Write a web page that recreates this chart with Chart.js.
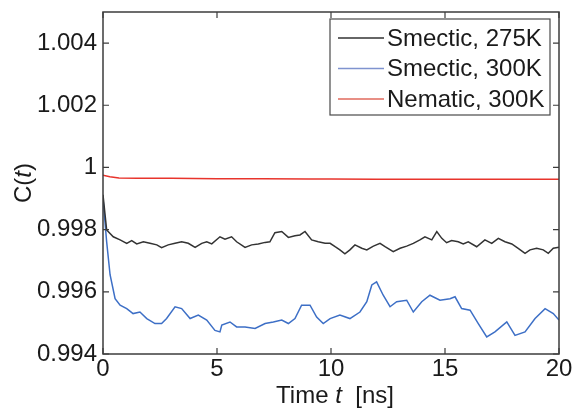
<!DOCTYPE html>
<html>
<head>
<meta charset="utf-8">
<script src="https://cdn.jsdelivr.net/npm/chart.js@4.4.1/dist/chart.umd.min.js"></script>
<style>
  html, body { margin: 0; padding: 0; background: #fff; }
  #wrap { width: 574px; height: 410px; }
</style>
</head>
<body>
<div id="wrap"><canvas id="myChart"></canvas></div>
<script>
// C(t) traces, time in ns
const blackT = [0, 0.16, 0.45, 0.75, 1.04, 1.26, 1.48, 1.77, 2.06, 2.36, 2.57, 2.86, 3.16, 3.45, 3.74, 4.04, 4.33, 4.55, 4.77, 5.13, 5.35, 5.64, 5.86, 6.23, 6.52, 6.81, 7.11, 7.32, 7.54, 7.84, 8.13, 8.42, 8.64, 8.86, 9.15, 9.44, 9.74, 9.96, 10.18, 10.39, 10.61, 10.83, 11.05, 11.35, 11.57, 11.86, 12.15, 12.37, 12.73, 13.03, 13.32, 13.61, 13.9, 14.12, 14.42, 14.64, 14.86, 15.07, 15.29, 15.58, 15.8, 16.02, 16.39, 16.75, 17.05, 17.34, 17.63, 17.93, 18.21, 18.51, 18.73, 19.02, 19.31, 19.53, 19.75, 20];
const blackC = [0.99912, 0.99799, 0.99777, 0.99767, 0.99756, 0.99765, 0.99754, 0.99761, 0.99756, 0.99751, 0.99742, 0.99751, 0.99756, 0.99761, 0.99756, 0.99743, 0.99756, 0.99761, 0.99754, 0.99777, 0.99769, 0.99777, 0.99761, 0.99743, 0.99751, 0.99754, 0.99759, 0.99761, 0.9979, 0.99794, 0.99775, 0.9978, 0.99783, 0.99794, 0.99767, 0.99761, 0.99756, 0.99756, 0.99745, 0.99735, 0.99722, 0.99735, 0.99751, 0.9974, 0.99735, 0.99747, 0.99756, 0.99745, 0.99729, 0.9974, 0.99747, 0.99756, 0.99767, 0.99777, 0.99767, 0.99794, 0.99772, 0.99758, 0.99765, 0.99761, 0.99754, 0.99761, 0.99745, 0.99767, 0.99756, 0.99772, 0.99761, 0.99754, 0.9974, 0.99724, 0.99735, 0.9974, 0.99735, 0.99724, 0.9974, 0.99743];

const blueT = [0, 0.16, 0.31, 0.53, 0.75, 1.04, 1.32, 1.62, 1.92, 2.28, 2.57, 2.79, 3.16, 3.45, 3.82, 4.18, 4.55, 4.91, 5.13, 5.21, 5.57, 5.86, 6.23, 6.67, 7.11, 7.47, 7.84, 8.13, 8.42, 8.71, 9.08, 9.37, 9.66, 9.96, 10.39, 10.83, 11.27, 11.57, 11.79, 12.0, 12.29, 12.59, 12.88, 13.32, 13.61, 13.98, 14.34, 14.78, 15.22, 15.44, 15.73, 16.1, 16.46, 16.83, 17.19, 17.71, 18.07, 18.51, 18.95, 19.39, 19.75, 20];
const blueC = [0.99901, 0.99761, 0.99655, 0.99578, 0.99557, 0.99546, 0.9953, 0.99535, 0.99514, 0.99498, 0.99498, 0.99514, 0.99552, 0.99546, 0.99514, 0.99525, 0.99509, 0.99476, 0.99471, 0.99493, 0.99503, 0.99487, 0.99487, 0.99482, 0.99498, 0.99503, 0.99509, 0.99498, 0.99514, 0.99557, 0.99557, 0.99519, 0.99498, 0.99514, 0.99525, 0.99514, 0.99535, 0.99568, 0.99622, 0.99632, 0.99589, 0.99552, 0.99568, 0.99573, 0.99535, 0.99568, 0.99589, 0.99573, 0.99578, 0.99584, 0.99546, 0.99541, 0.99498, 0.99455, 0.99471, 0.99503, 0.9946, 0.99471, 0.99514, 0.99546, 0.9953, 0.99509];

const redT = [0, 0.3, 0.7, 1.5, 3, 5, 7, 9, 10, 12, 14, 16, 18, 20];
const redC = [0.99975, 0.9997, 0.99966, 0.99965, 0.99965, 0.99964, 0.99964, 0.99963, 0.99963, 0.99962, 0.99962, 0.99962, 0.99962, 0.99962];

const seriesNames = ['Smectic, 275K', 'Smectic, 300K', 'Nematic, 300K'];
const seriesColors = ['#333333', '#3d6fc6', '#e8342c'];
const legendColors = ['#333333', '#7f93cf', '#e06a5c'];

const xTicks = [0, 5, 10, 15, 20];
const yTickValues = [0.994, 0.996, 0.998, 1.0, 1.002, 1.004];
const yTickLabels = ['0.994', '0.996', '0.998', '1', '1.002', '1.004'];

const FONT = '"Liberation Sans", Arial, sans-serif';
const TXT = '#1a1a1a';
const SIZE = 24;

function pts(ts, vs) {
  return ts.map((t, i) => ({ x: t, y: vs[i] }));
}

// draws mixed upright/italic pieces one after another
function drawPieces(ctx, parts, x, y) {
  parts.forEach(p => {
    ctx.font = p[1] + SIZE + 'px ' + FONT;
    ctx.fillText(p[0], x, y);
    x += ctx.measureText(p[0]).width;
  });
}
function piecesWidth(ctx, parts) {
  let w = 0;
  parts.forEach(p => { ctx.font = p[1] + SIZE + 'px ' + FONT; w += ctx.measureText(p[0]).width; });
  return w;
}

// frame, inward ticks, axis titles and legend box
const axesDeco = {
  id: 'axesDeco',
  afterDatasetsDraw(chart) {
    const ctx = chart.ctx;
    const a = chart.chartArea;
    const xs = chart.scales.x, ys = chart.scales.y;
    const tl = 6;
    ctx.save();
    ctx.strokeStyle = '#3c3c3c';
    ctx.lineWidth = 1.5;
    ctx.strokeRect(a.left, a.top, a.right - a.left, a.bottom - a.top);
    ctx.lineWidth = 1.2;
    ctx.beginPath();
    xTicks.forEach(v => {
      const px = xs.getPixelForValue(v);
      ctx.moveTo(px, a.bottom); ctx.lineTo(px, a.bottom - tl);
      ctx.moveTo(px, a.top); ctx.lineTo(px, a.top + tl);
    });
    yTickValues.forEach(v => {
      const py = ys.getPixelForValue(v);
      ctx.moveTo(a.left, py); ctx.lineTo(a.left + tl, py);
      ctx.moveTo(a.right, py); ctx.lineTo(a.right - tl, py);
    });
    ctx.stroke();

    ctx.fillStyle = TXT;
    ctx.textBaseline = 'alphabetic';

    // x title
    const xparts = [['Time ', ''], ['t', 'italic '], ['  [ns]', '']];
    drawPieces(ctx, xparts, (a.left + a.right) / 2 - piecesWidth(ctx, xparts) / 2 + 4, 403);

    // y title
    ctx.save();
    ctx.translate(31, (a.top + a.bottom) / 2);
    ctx.rotate(-Math.PI / 2);
    const yparts = [['C(', ''], ['t', 'italic '], [')', '']];
    drawPieces(ctx, yparts, -piecesWidth(ctx, yparts) / 2, 0);
    ctx.restore();

    // legend
    const lx = 330, ly = 19, lw = 220, lh = 96;
    ctx.fillStyle = '#ffffff';
    ctx.fillRect(lx, ly, lw, lh);
    ctx.strokeStyle = '#4a4a4a';
    ctx.lineWidth = 1.2;
    ctx.strokeRect(lx, ly, lw, lh);
    ctx.font = SIZE + 'px ' + FONT;
    ctx.textBaseline = 'middle';
    seriesNames.forEach((name, i) => {
      const cy = 38 + i * 30.5;
      ctx.strokeStyle = legendColors[i];
      ctx.lineWidth = 1.5;
      ctx.beginPath();
      ctx.moveTo(338, cy); ctx.lineTo(384, cy);
      ctx.stroke();
      ctx.fillStyle = TXT;
      ctx.fillText(name, 387, cy + 1);
    });
    ctx.restore();
  }
};

const canvas = document.getElementById('myChart');
new Chart(canvas, {
  type: 'line',
  data: {
    datasets: [
      { label: seriesNames[0], data: pts(blackT, blackC), borderColor: seriesColors[0] },
      { label: seriesNames[1], data: pts(blueT, blueC), borderColor: seriesColors[1] },
      { label: seriesNames[2], data: pts(redT, redC), borderColor: seriesColors[2] }
    ].map(d => Object.assign(d, { borderWidth: 1.5, pointRadius: 0, tension: 0, fill: false }))
  },
  options: {
    responsive: true,
    maintainAspectRatio: false,
    animation: false,
    layout: { padding: { left: 0, right: 15, top: 12, bottom: 0 } },
    plugins: { legend: { display: false }, tooltip: { enabled: false } },
    scales: {
      x: {
        type: 'linear',
        min: 0, max: 20,
        afterBuildTicks(scale) { scale.ticks = xTicks.map(v => ({ value: v })); },
        afterFit(scale) {
          scale.height = 56;
          scale.paddingLeft = 0; scale.paddingRight = 0;
        },
        grid: { display: false, drawTicks: false },
        border: { display: false },
        ticks: { color: TXT, font: { family: FONT, size: SIZE }, padding: 1, maxRotation: 0 }
      },
      y: {
        min: 0.994, max: 1.005,
        afterBuildTicks(scale) { scale.ticks = yTickValues.map(v => ({ value: v })); },
        afterFit(scale) {
          scale.width = 103;
          scale.paddingTop = 0; scale.paddingBottom = 0;
        },
        grid: { display: false, drawTicks: false },
        border: { display: false },
        ticks: {
          color: TXT, font: { family: FONT, size: SIZE }, padding: 6,
          callback: v => yTickLabels[yTickValues.indexOf(v)]
        }
      }
    }
  },
  plugins: [axesDeco]
});
</script>
</body>
</html>
